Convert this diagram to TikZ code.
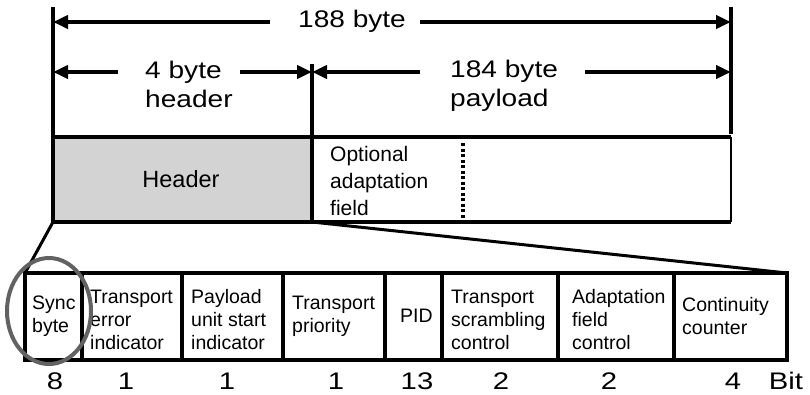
\documentclass[tikz,border=0pt]{standalone}
\usepackage{fontspec}
\setmainfont{Liberation Sans}
\usetikzlibrary{arrows.meta}
\definecolor{hdrgray}{HTML}{D3D3D3}
\definecolor{ringgray}{HTML}{626262}
\tikzset{
  frame/.style={line width=3.5pt},
  dimarrow/.style={line width=4pt,-{Triangle[length=15pt,width=13pt]}},
  biglabel/.style={font=\fontsize{24}{29}\selectfont, align=left, inner sep=0pt, transform shape, xscale=1.17},
  fieldtext/.style={font=\fontsize{19.5}{23}\selectfont, align=left, anchor=west, inner sep=0pt},
  bitnum/.style={font=\fontsize{24}{28}\selectfont, inner sep=0pt, transform shape, xscale=1.22},
}
\begin{document}
\begin{tikzpicture}[x=1pt,y=-1pt]
\useasboundingbox (0,0) rectangle (810,394);
% frame coordinates
\coordinate (tl) at (53,7);
\coordinate (tr) at (731,7);
\coordinate (mt) at (312,64);
\coordinate (ml) at (53,137);
\coordinate (mm) at (312,137);
\coordinate (mr) at (731,137);
\coordinate (bl) at (53,222);
\coordinate (mb) at (312,222);
\coordinate (br) at (731,222);
% packet row
\fill[hdrgray] (ml) rectangle (mb);
\draw[frame] (tl) -- (bl) -- (br);
\draw[frame] (tr) -- ([yshift=3pt]mr);
\draw[line width=2.5pt] (mr) -- (br);
\draw[frame] (mt) -- (mb);
\draw[frame] (ml) -- (mr);
\draw[line width=3.5pt, dash pattern=on 3pt off 2.5pt] (463,143) -- (463,221);
% labels
\node[biglabel] (t188) at (352,21) {188 byte};
\node[biglabel, anchor=west] (t4) at (145,84) {4 byte\\header};
\node[biglabel, anchor=west] (t184) at (450,86) {184 byte\\payload};
\node[font=\fontsize{23.5}{27}\selectfont, inner sep=0pt] (hdr) at (181,179) {Header};
\node[font=\fontsize{21}{27}\selectfont, align=left, anchor=west, inner sep=0pt] (opt) at (330,181) {Optional\\adaptation\\field};
% dimension arrows
\coordinate (a188l) at (270,22);
\coordinate (a188r) at (420,22);
\draw[dimarrow] (a188l) -- (tl |- a188l);
\draw[dimarrow] (a188r) -- (tr |- a188r);
\coordinate (a4l) at (118,72);
\coordinate (a4r) at (240,72);
\draw[dimarrow] (a4l) -- (tl |- a4l);
\draw[dimarrow] (a4r) -- (mt |- a4r);
\coordinate (a184l) at (420,72);
\coordinate (a184r) at (585,72);
\draw[dimarrow] (a184l) -- (mt |- a184l);
\draw[dimarrow] (a184r) -- (tr |- a184r);
% header fields
\coordinate (ftl) at (25,273);
\coordinate (ftr) at (787,273);
\draw[frame] (ftl) rectangle (787,360);
\foreach \x in {82,182,283,385,442,558,674} \draw[frame] (\x,273) -- (\x,360);
\draw[line width=3pt] (bl) -- (ftl);
\draw[line width=3pt] (mb) -- (ftr);
\node[fieldtext] (f1) at (32,316) {Sync\\byte};
\node[fieldtext] (f2) at (90,320) {Transport\\error\\indicator};
\node[fieldtext] (f3) at (191,320) {Payload\\unit start\\indicator};
\node[fieldtext] (f4) at (292,316) {Transport\\priority};
\node[fieldtext] (f5) at (400,316) {PID};
\node[fieldtext] (f6) at (451,320) {Transport\\scrambling\\control};
\node[fieldtext] (f7) at (572,320) {Adaptation\\field\\control};
\node[fieldtext] (f8) at (682,316) {Continuity\\counter};
\draw[ringgray, line width=4pt] (49,311) ellipse [x radius=42pt, y radius=53pt];
% bit counts
\node[bitnum] (b1) at (55,381) {8};
\node[bitnum] (b2) at (126,381) {1};
\node[bitnum] (b3) at (227,381) {1};
\node[bitnum] (b4) at (336,381) {1};
\node[bitnum] (b5) at (417,381) {13};
\node[bitnum] (b6) at (501,381) {2};
\node[bitnum] (b7) at (609,381) {2};
\node[bitnum] (b8) at (733,381) {4};
\node[bitnum] (b9) at (786,381) {Bit};
\end{tikzpicture}
\end{document}
